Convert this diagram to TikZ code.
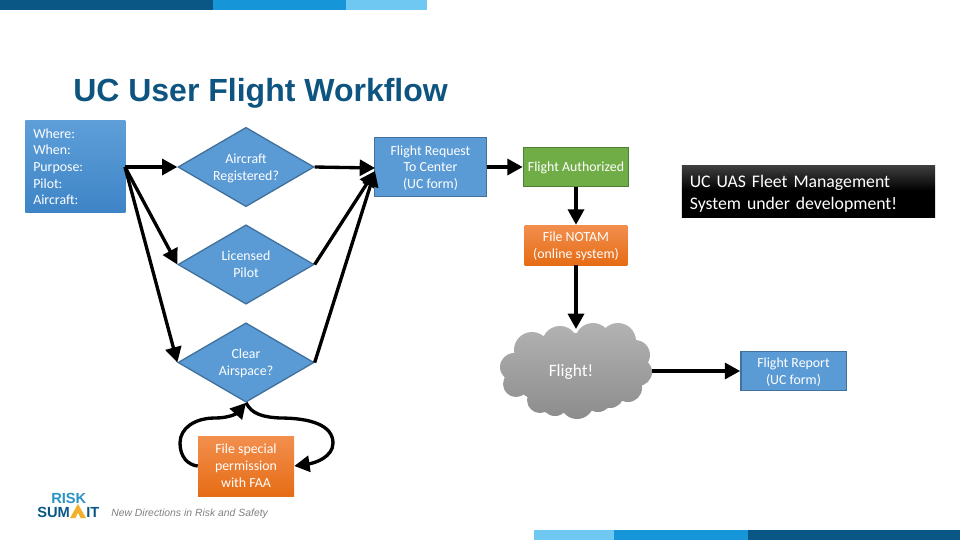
\documentclass[tikz,border=0pt]{standalone}
\usepackage{fontspec}
\setmainfont{Carlito}
\newfontfamily\titlefont{Liberation Sans}
\usetikzlibrary{arrows.meta, shapes.geometric}
\definecolor{bluefill}{HTML}{5B9BD5}
\definecolor{blueedge}{HTML}{41719C}
\definecolor{bluetop}{HTML}{5E9FD9}
\definecolor{bluebot}{HTML}{3E84C6}
\definecolor{barDark}{HTML}{0A5785}
\definecolor{barMid}{HTML}{1795D9}
\definecolor{barLight}{HTML}{6FC8F2}
\definecolor{titleblue}{HTML}{0E5480}
\definecolor{greenfill}{HTML}{70AD47}
\definecolor{greenedge}{HTML}{507E32}
\definecolor{orangetop}{HTML}{F28F4E}
\definecolor{orangebot}{HTML}{E66C15}
\definecolor{logoblue}{HTML}{2A93C4}
\definecolor{logopeak}{HTML}{F3B02C}
\newcommand{\figArrow}{{Triangle[length=11.5pt, width=12pt]}}
\tikzset{
	flow/.style={line width=2.5pt, -\figArrow},
	decision/.style={diamond, draw=blueedge, line width=1pt, fill=bluefill, text=white, align=center, aspect=1.72, inner sep=0pt, minimum width=102pt, minimum height=59.5pt, text depth=0pt, font=\fontsize{10.4}{13}\selectfont},
	bluebox/.style={rectangle, draw=blueedge, line width=1pt, fill=bluefill, text=white, align=center, inner sep=0pt, text depth=0pt, font=\fontsize{10.4}{12.6}\selectfont},
	orangebox/.style={rectangle, top color=orangetop, bottom color=orangebot, text=white, align=center, inner sep=0pt, text depth=0pt, font=\fontsize{10.4}{12.8}\selectfont},
	logotext/.style={anchor=west, text=barDark, inner sep=0pt, font=\titlefont\bfseries\fontsize{11}{12}\selectfont},
}
\begin{document}
\begin{tikzpicture}[x=0.75pt, y=-0.75pt]
	\useasboundingbox (0,0) rectangle (960,540);

	% bars
	\fill[barDark]	(0,0) rectangle (213,10);
	\fill[barMid]	(213,0) rectangle (346,10);
	\fill[barLight]	(346,0) rectangle (427,10);
	\fill[barLight]	(534,530) rectangle (614,540);
	\fill[barMid]	(614,530) rectangle (748,540);
	\fill[barDark]	(748,530) rectangle (960,540);

	\node[anchor=west, inner sep=0pt, text=titleblue, font=\titlefont\bfseries\fontsize{24}{28}\selectfont] (title) at (73,93) {UC User Flight Workflow};

	\node[rectangle, top color=bluetop, bottom color=bluebot, text=white, align=left, anchor=north west, minimum width=75pt, minimum height=69.5pt, inner sep=0pt, text width=69pt, font=\fontsize{10.4}{12.5}\selectfont] (info) at (25,120) {\hspace*{3pt}Where:\\\hspace*{3pt}When:\\\hspace*{3pt}Purpose:\\\hspace*{3pt}Pilot:\\\hspace*{3pt}Aircraft:};

	\node[decision] (reg) at (246,167) {Aircraft\\Registered?};
	\node[decision] (lic) at (246,264.5) {Licensed\\Pilot};
	\node[decision] (air) at (246,362.5) {Clear\\Airspace?};

	\node[bluebox, minimum width=84pt, minimum height=44pt] (req) at (430.5,167) {Flight Request\\To Center\\(UC form)};
	\node[rectangle, draw=greenedge, line width=1pt, fill=greenfill, text=white, align=center, inner sep=0pt, minimum width=79pt, minimum height=29.5pt, text depth=0pt, font=\fontsize{10.4}{12.2}\selectfont] (auth) at (576,167) {Flight Authorized};
	\node[orangebox, minimum width=77pt, minimum height=30pt] (notam) at (576,245) {File NOTAM\\(online system)};
	\node[orangebox, minimum width=72pt, minimum height=45pt] (perm) at (246,466) {File special\\permission\\with FAA};
	\node[bluebox, minimum width=79pt, minimum height=29.5pt] (rep) at (793.5,371) {Flight Report\\(UC form)};

	% cloud
	\shade[top color=black!30, bottom color=black!45]
		(577,371) circle [x radius=68, y radius=38]
		\foreach \cx/\cy/\cr in {514/367/14, 516/384/13, 532/350/18, 560/344/18, 593/341/18, 618/341/18, 635/355/15, 638/372/14, 628/388/14, 610/394/14, 598/398/14, 577/402/17, 555/402/14, 540/400/13} {
			(\cx,\cy) circle (\cr)
		};
	\node[text=white, inner sep=0pt, text depth=0pt, font=\fontsize{13}{15}\selectfont] (fly) at (571,370) {Flight!};
	\coordinate (flytop) at (576,329);
	\coordinate (flyright) at (652,371);

	\node[rectangle, top color=black!75, bottom color=black, middle color=black, text=white, align=left, text width=178pt, inner sep=0pt, minimum width=190pt, minimum height=39pt, font=\fontsize{13.3}{16.5}\selectfont] (fleet) at (808.5,191) {\rule{0pt}{12.7pt}UC UAS Fleet Management\\System under development!};

	% arrows
	\coordinate (infoout) at (125,167);
	\coordinate (reqtop) at (375,168);
	\coordinate (reqin) at (375,171);
	\draw[flow] (infoout) -- (reg.west);
	\draw[flow] (infoout) -- (lic.west);
	\draw[flow] (infoout) -- (air.west);
	\draw[flow] (reg.east) -- (reqtop);
	\draw[flow] (lic.east) -- (reqin);
	\draw[flow] (air.east) -- (reqin);
	\draw[flow] (req.east) -- (auth.west);
	\draw[flow] (auth.south) -- (notam.north);
	\draw[flow] (notam.south) -- (flytop);
	\draw[flow] (flyright) -- (rep.west);
	\draw[flow] (air.south) .. controls (252,414) and (262,417) .. (280,418) .. controls (310,418) and (333,425) .. (333,443) .. controls (333,457) and (315,463) .. (perm.east);
	\draw[flow] (perm.west) .. controls (188,465) and (180,457) .. (180,443) .. controls (180,428) and (195,418) .. (215,418) .. controls (228,418) and (236,414) .. (air.south);

	% logo
	\node[logotext, text=logoblue] (risk) at (51,498) {RISK};
	\node[logotext] (sum) at (37,512) {SUM};
	\node[logotext] (it) at (86,512) {IT};
	\fill[logopeak] (70,518) -- (78,504) -- (86,518) -- cycle;
	\fill[white] (75.5,518) -- (78,513) -- (80.5,518) -- cycle;

	\node[anchor=west, text=gray, inner sep=0pt, font=\titlefont\itshape\fontsize{7.8}{9}\selectfont] (tag) at (111,513.5) {New Directions in Risk and Safety};
\end{tikzpicture}
\end{document}
